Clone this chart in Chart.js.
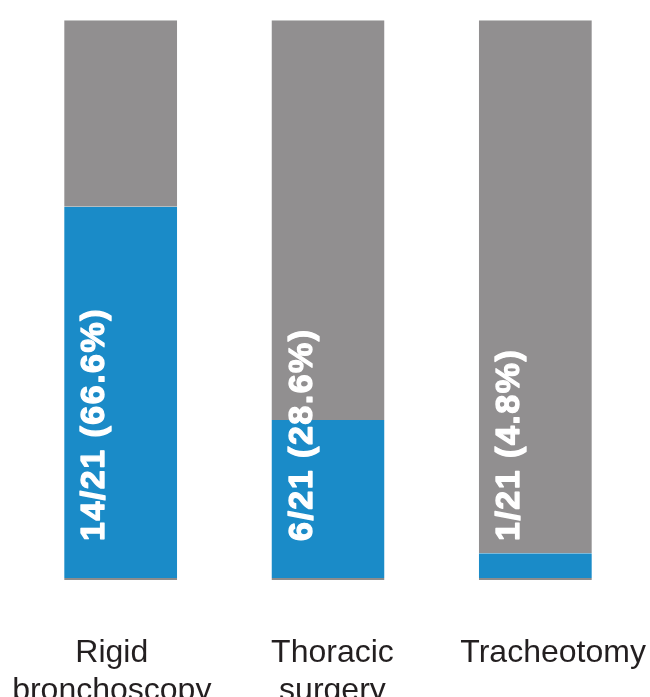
<!DOCTYPE html>
<html>
<head>
<meta charset="utf-8">
<script src="https://cdn.jsdelivr.net/npm/chart.js@4"></script>
<style>
  html, body { margin: 0; padding: 0; background: #fff; overflow: hidden; }
  #wrap { width: 650px; height: 697px; }
</style>
</head>
<body>
<div id="wrap"><canvas id="procChart"></canvas></div>
<script>
// categories (leading/trailing spaces nudge the labels like the original)
const categories = [["Rigid  ", "bronchoscopy  "], [" Thoracic", " surgery"], ["    Tracheotomy"]];
const patients = [14, 6, 1];
const others = [7, 15, 20];
const total = 21;
const percents = ["66.6", "28.6", "4.8"];

const blue = "#1a8bc8";
const grey = "#918f90";

// white rotated labels inside the bars
const barLabels = {
  id: "barLabels",
  afterDatasetsDraw(chart) {
    const ctx = chart.ctx;
    const meta = chart.getDatasetMeta(0);
    const base = chart.scales.y.getPixelForValue(0);
    ctx.save();
    ctx.fillStyle = "#ffffff";
    ctx.strokeStyle = "#ffffff";
    ctx.lineWidth = 1.3;
    ctx.lineJoin = "round";
    ctx.font = "bold 34px 'Liberation Sans', Arial, sans-serif";
    ctx.letterSpacing = "1.5px";
    ctx.textAlign = "left";
    ctx.textBaseline = "alphabetic";
    meta.data.forEach((bar, i) => {
      const left = bar.x - bar.width / 2;
      const txt = patients[i] + "/" + total + " (" + percents[i] + "%)";
      ctx.save();
      ctx.translate(left + 40, base - 39);
      ctx.rotate(-Math.PI / 2);
      ctx.fillText(txt, 0, 0);
      ctx.strokeText(txt, 0, 0);
      ctx.restore();
    });
    ctx.restore();
  }
};

const ctx = document.getElementById("procChart").getContext("2d");
new Chart(ctx, {
  type: "bar",
  data: {
    labels: categories,
    datasets: [
      {
        data: patients,
        backgroundColor: blue,
        borderColor: "#8c8c8c",
        borderWidth: { bottom: 2, top: 0, left: 0, right: 0 },
        borderSkipped: false,
        categoryPercentage: 1,
        barPercentage: 0.545,
      },
      {
        data: others,
        backgroundColor: grey,
        borderColor: "#c4c4c4",
        borderWidth: { top: 1, bottom: 0, left: 0, right: 0 },
        borderSkipped: false,
        categoryPercentage: 1,
        barPercentage: 0.545,
      },
    ],
  },
  options: {
    responsive: true,
    maintainAspectRatio: false,
    animation: false,
    layout: { padding: { top: 20, left: 17, right: 11, bottom: 0 } },
    plugins: {
      legend: { display: false },
      tooltip: { enabled: false },
    },
    scales: {
      x: {
        stacked: true,
        // invisible tick marks push the labels down without widening the side padding
        grid: {
          display: true,
          drawOnChartArea: false,
          drawTicks: true,
          tickLength: 54,
          color: "rgba(0,0,0,0)",
        },
        border: { display: false },
        ticks: {
          color: "#231f20",
          font: { family: "'Liberation Sans', Arial, sans-serif", size: 32, lineHeight: 1.2 },
          padding: 0,
          maxRotation: 0,
          minRotation: 0,
          autoSkip: false,
        },
        afterFit: (axis) => {
          axis.height = 117;
        },
      },
      y: {
        stacked: true,
        display: false,
        min: 0,
        max: total,
      },
    },
  },
  plugins: [barLabels],
});
</script>
</body>
</html>
